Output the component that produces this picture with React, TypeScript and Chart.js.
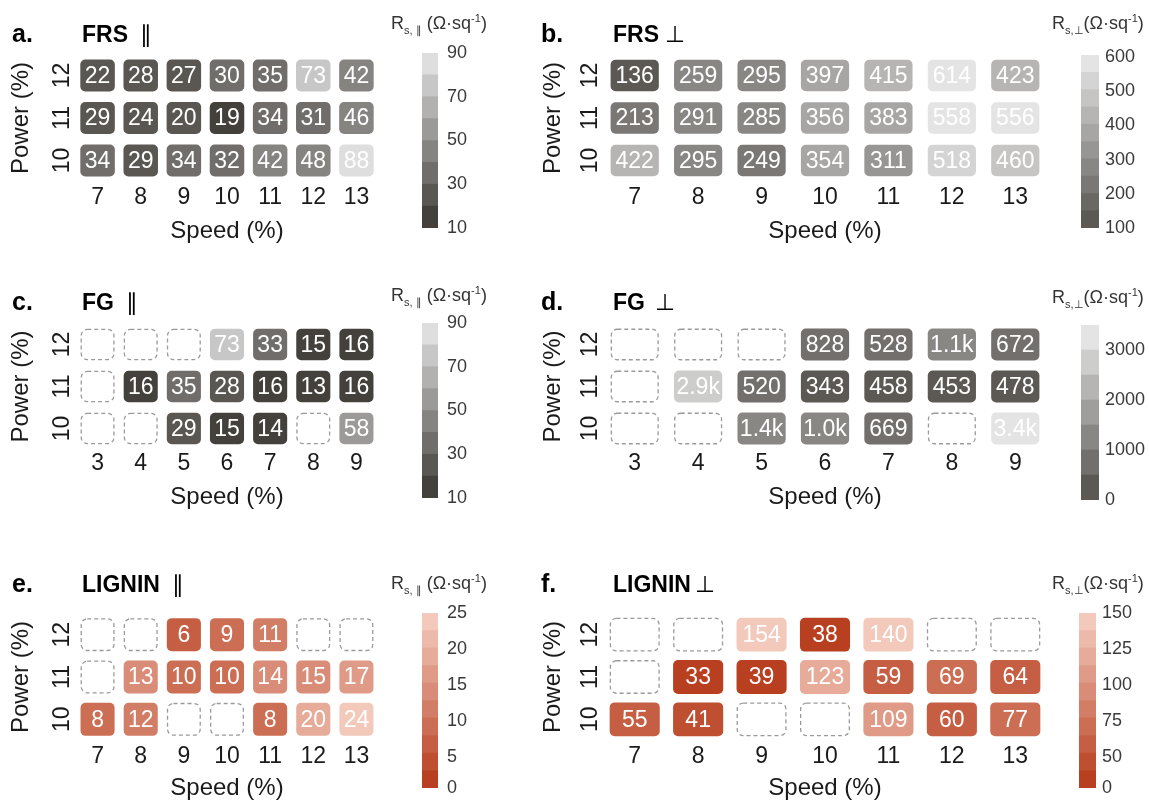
import React, { useEffect, useRef } from 'react';
import { Chart, registerables } from 'chart.js';
Chart.register(...registerables);

const FONT = '"Liberation Sans", Arial, Helvetica, sans-serif';
const CELLF = '"Liberation Sans", Arial, sans-serif';
const SYMF = '"DejaVu Sans", "Liberation Sans", sans-serif';

// ---------- data ----------
const powers = [12, 11, 10];
const speedsFRS = [7, 8, 9, 10, 11, 12, 13];
const speedsFG = [3, 4, 5, 6, 7, 8, 9];
const speedsLignin = [7, 8, 9, 10, 11, 12, 13];

const frsPar = [
  [22, 28, 27, 30, 35, 73, 42],
  [29, 24, 20, 19, 34, 31, 46],
  [34, 29, 34, 32, 42, 48, 88],
];
const frsPerp = [
  [136, 259, 295, 397, 415, 614, 423],
  [213, 291, 285, 356, 383, 558, 556],
  [422, 295, 249, 354, 311, 518, 460],
];
const fgPar = [
  [null, null, null, 73, 33, 15, 16],
  [null, 16, 35, 28, 16, 13, 16],
  [null, null, 29, 15, 14, null, 58],
];
const fgPerp = [
  [null, null, null, 828, 528, 1100, 672],
  [null, 2900, 520, 343, 458, 453, 478],
  [null, null, 1400, 1000, 669, null, 3400],
];
const ligPar = [
  [null, null, 6, 9, 11, null, null],
  [null, 13, 10, 10, 14, 15, 17],
  [8, 12, null, null, 8, 20, 24],
];
const ligPerp = [
  [null, null, 154, 38, 140, null, null],
  [null, 33, 39, 123, 59, 69, 64],
  [55, 41, null, null, 109, 60, 77],
];

// colour-bar ranges and tick labels
const cbRangePar = [10, 90];
const cbRangeFrsPerp = [100, 606];
const cbRangeFgPerp = [0, 3500];
const cbRangeLigPar = [0.7, 25];
const cbRangeLigPerp = [28.5, 150];
const cbTicksPar = [10, 30, 50, 70, 90];
const cbTicksFrsPerp = [100, 200, 300, 400, 500, 600];
const cbTicksFgPerp = [0, 1000, 2000, 3000];
const cbTicksLigPar = [0, 5, 10, 15, 20, 25];
const cbTicksLigPerp = [0, 50, 75, 100, 125, 150];

// ---------- styles ----------
const GRAY_L = { dark: [68, 64, 60], light: [222, 222, 222] };
const GRAY_R = { dark: [92, 88, 84], light: [228, 228, 228] };
const RED = { dark: [184, 64, 32], light: [243, 201, 188] };

const ROWS = [
  { canvasTop: 20, canvasH: 235, areaTop: 54.25, areaBottom: 181.75, titleC: 231, tickC: 198 },
  { canvasTop: 290, canvasH: 235, areaTop: 323.5, areaBottom: 449.5, titleC: 497, tickC: 464 },
  { canvasTop: 580, canvasH: 240, areaTop: 613.5, areaBottom: 740.5, titleC: 788, tickC: 757 },
];
const COLS: any = {
  L: { canvasLeft: 0, canvasW: 395, areaLeft: 76, areaRight: 378, powerC: 21, tickPad: 1, letterX: 12, nameX: 82, cbTitleX: 391, cbCanvasLeft: 392, cbCanvasW: 110, cbTickPad: 9 },
  R: { canvasLeft: 530, canvasW: 530, areaLeft: 603, areaRight: 1047, powerC: 553, tickPad: 0, letterX: 541, nameX: 613, cbTitleX: 1052, cbCanvasLeft: 1050, cbCanvasW: 99, cbTickPad: 6 },
};

type Panel = {
  letter: string; name: string; sym: string; gap: string;
  speeds: number[]; values: (number | null)[][];
  range: number[]; bands: number; ticks: number[];
  pal: { dark: number[]; light: number[] };
  col: 'L' | 'R'; row: number; wf: number; hh: number;
  bar: { x: number; w: number; top: number; bottom: number };
  cbTitleY: number; titleY: number; sub: string; subGap: string;
};

const PANELS: Panel[] = [
  { letter: 'a.', name: 'FRS', sym: '\u2225', gap: '12px', speeds: speedsFRS, values: frsPar, range: cbRangePar, bands: 8, ticks: cbTicksPar, pal: GRAY_L, col: 'L', row: 0, wf: 0.8, hh: 0.375, bar: { x: 422, w: 16, top: 53, bottom: 228 }, cbTitleY: 13, titleY: 35, sub: 's, \u2225', subGap: ' ' },
  { letter: 'b.', name: 'FRS', sym: '\u22A5', gap: '6px', speeds: speedsFRS, values: frsPerp, range: cbRangeFrsPerp, bands: 10, ticks: cbTicksFrsPerp, pal: GRAY_R, col: 'R', row: 0, wf: 0.76, hh: 0.37, bar: { x: 1081, w: 18, top: 55, bottom: 228 }, cbTitleY: 13, titleY: 35, sub: 's,\u22A5', subGap: '' },
  { letter: 'c.', name: 'FG', sym: '\u2225', gap: '12px', speeds: speedsFG, values: fgPar, range: cbRangePar, bands: 8, ticks: cbTicksPar, pal: GRAY_L, col: 'L', row: 1, wf: 0.79, hh: 0.375, bar: { x: 422, w: 16, top: 323, bottom: 498 }, cbTitleY: 285, titleY: 303, sub: 's, \u2225', subGap: ' ' },
  { letter: 'd.', name: 'FG', sym: '\u22A5', gap: '10px', speeds: speedsFG, values: fgPerp, range: cbRangeFgPerp, bands: 7, ticks: cbTicksFgPerp, pal: GRAY_R, col: 'R', row: 1, wf: 0.76, hh: 0.38, bar: { x: 1081, w: 18, top: 325, bottom: 500 }, cbTitleY: 287, titleY: 303, sub: 's,\u22A5', subGap: '' },
  { letter: 'e.', name: 'LIGNIN', sym: '\u2225', gap: '12px', speeds: speedsLignin, values: ligPar, range: cbRangeLigPar, bands: 10, ticks: cbTicksLigPar, pal: RED, col: 'L', row: 2, wf: 0.79, hh: 0.39, bar: { x: 422, w: 16, top: 613, bottom: 788 }, cbTitleY: 573, titleY: 585, sub: 's, \u2225', subGap: ' ' },
  { letter: 'f.', name: 'LIGNIN', sym: '\u22A5', gap: '4px', speeds: speedsLignin, values: ligPerp, range: cbRangeLigPerp, bands: 10, ticks: cbTicksLigPerp, pal: RED, col: 'R', row: 2, wf: 0.79, hh: 0.4, bar: { x: 1079, w: 17, top: 613, bottom: 788 }, cbTitleY: 573, titleY: 585, sub: 's,\u22A5', subGap: '' },
];

function bandColor(p: Panel, i: number) {
  const t = p.bands > 1 ? i / (p.bands - 1) : 0;
  const c = p.pal.dark.map((d, k) => Math.round(d + (p.pal.light[k] - d) * t));
  return `rgb(${c[0]},${c[1]},${c[2]})`;
}
function colorFor(p: Panel, v: number) {
  const [mn, mx] = p.range;
  let i = Math.floor(((v - mn) / (mx - mn)) * p.bands);
  i = Math.max(0, Math.min(p.bands - 1, i));
  return bandColor(p, i);
}
function fmt(v: number) {
  return v >= 1000 ? (v / 1000).toFixed(1) + 'k' : String(v);
}

function cellPlugin(p: Panel) {
  return {
    id: 'cellLabels',
    afterDatasetsDraw(chart: any) {
      const { ctx } = chart;
      const xs = chart.scales.x;
      const ys = chart.scales.y;
      const w = (xs.getPixelForTick(1) - xs.getPixelForTick(0)) * p.wf;
      ctx.save();
      powers.forEach((pw, r) => {
        p.values[r].forEach((v, i) => {
          const cx = xs.getPixelForTick(i);
          const top = ys.getPixelForValue(pw + p.hh);
          const bot = ys.getPixelForValue(pw - p.hh);
          if (v == null) {
            ctx.setLineDash([4, 3]);
            ctx.strokeStyle = '#9a9a9a';
            ctx.lineWidth = 1.3;
            ctx.beginPath();
            ctx.roundRect(cx - w / 2 + 0.7, top + 0.7, w - 1.4, bot - top - 1.4, 6);
            ctx.stroke();
          } else {
            ctx.setLineDash([]);
            ctx.fillStyle = '#ffffff';
            ctx.font = `23px ${CELLF}`;
            ctx.textAlign = 'center';
            ctx.textBaseline = 'middle';
            ctx.fillText(fmt(v), cx, (top + bot) / 2 + 1);
          }
        });
      });
      ctx.restore();
    },
  };
}

function heatConfig(p: Panel): any {
  const R = ROWS[p.row];
  const C = COLS[p.col];
  const lhT = 24 * 1.2;
  const lhK = 23 * 1.2;
  return {
    type: 'bar',
    data: {
      labels: p.speeds.map(String),
      datasets: powers.map((pw, r) => ({
        label: String(pw),
        data: p.values[r].map((v) => (v == null ? null : [pw - p.hh, pw + p.hh])),
        backgroundColor: p.values[r].map((v) => (v == null ? 'rgba(0,0,0,0)' : colorFor(p, v))),
        borderWidth: 0,
        borderRadius: 5,
        borderSkipped: false,
        grouped: false,
        barPercentage: p.wf,
        categoryPercentage: 1,
      })),
    },
    options: {
      responsive: false,
      animation: false,
      devicePixelRatio: 1,
      events: [],
      layout: {
        padding: {
          left: 0,
          right: C.canvasW - (C.areaRight - C.canvasLeft),
          top: R.areaTop - R.canvasTop,
          bottom: 0,
        },
      },
      plugins: { legend: { display: false }, tooltip: { enabled: false } },
      scales: {
        x: {
          type: 'category',
          offset: true,
          grid: { display: false, drawTicks: false },
          border: { display: false },
          ticks: { font: { family: FONT, size: 23 }, color: '#1a1a1a', padding: R.tickC - R.areaBottom - lhK / 2, maxRotation: 0, autoSkip: false },
          title: { display: true, text: 'Speed (%)', font: { family: FONT, size: 24 }, color: '#1a1a1a', padding: { top: 0, bottom: R.canvasTop + R.canvasH - R.titleC - lhT / 2 } },
          afterFit: (s: any) => { s.height = R.canvasTop + R.canvasH - R.areaBottom; },
        },
        y: {
          type: 'linear',
          min: 9.5,
          max: 12.5,
          beginAtZero: false,
          grid: { display: false, drawTicks: false },
          border: { display: false },
          afterBuildTicks: (s: any) => { s.ticks = powers.map((v) => ({ value: v })); },
          ticks: { font: { family: FONT, size: 23 }, color: '#1a1a1a', padding: C.tickPad, minRotation: 90, maxRotation: 90, crossAlign: 'center' },
          title: { display: true, text: 'Power (%)', font: { family: FONT, size: 24 }, color: '#1a1a1a', padding: { top: C.powerC - C.canvasLeft - lhT / 2, bottom: 0 } },
          afterFit: (s: any) => { s.width = C.areaLeft - C.canvasLeft; },
        },
      },
    },
    plugins: [cellPlugin(p)],
  };
}

function cbConfig(p: Panel): any {
  const C = COLS[p.col];
  const [mn, mx] = p.range;
  const step = (mx - mn) / p.bands;
  const datasets = Array.from({ length: p.bands }, (_, i) => ({
    data: [[mn + i * step, mn + (i + 1) * step]],
    backgroundColor: bandColor(p, i),
    borderWidth: 0,
    grouped: false,
    barPercentage: 1,
    categoryPercentage: 1,
  }));
  return {
    type: 'bar',
    data: { labels: [''], datasets },
    options: {
      responsive: false,
      animation: false,
      devicePixelRatio: 1,
      events: [],
      layout: { padding: { left: p.bar.x - C.cbCanvasLeft, right: 0, top: 30, bottom: 30 } },
      plugins: { legend: { display: false }, tooltip: { enabled: false } },
      scales: {
        x: { type: 'category', display: false, offset: true },
        y: {
          type: 'linear',
          position: 'right',
          min: mn,
          max: mx,
          beginAtZero: false,
          grid: { display: false, drawTicks: false },
          border: { display: false },
          afterBuildTicks: (s: any) => { s.ticks = p.ticks.map((v) => ({ value: Math.max(v, mn) })); },
          ticks: { font: { family: FONT, size: 18 }, color: '#3a3a3a', padding: C.cbTickPad, callback: (_v: any, i: number) => String(p.ticks[i]) },
          afterFit: (s: any) => { s.width = C.cbCanvasW - (p.bar.x + p.bar.w - C.cbCanvasLeft); },
        },
      },
    },
  };
}

function PanelView({ p }: { p: Panel }) {
  const heatRef = useRef<HTMLCanvasElement>(null);
  const cbRef = useRef<HTMLCanvasElement>(null);
  const R = ROWS[p.row];
  const C = COLS[p.col];
  useEffect(() => {
    const h = new Chart(heatRef.current as HTMLCanvasElement, heatConfig(p));
    const c = new Chart(cbRef.current as HTMLCanvasElement, cbConfig(p));
    return () => { h.destroy(); c.destroy(); };
  }, []);
  const cbTop = p.bar.top - 30;
  const cbH = p.bar.bottom - p.bar.top + 60;
  return (
    <>
      <canvas ref={heatRef} width={C.canvasW} height={R.canvasH}
        style={{ position: 'absolute', left: C.canvasLeft, top: R.canvasTop, width: C.canvasW, height: R.canvasH }} />
      <canvas ref={cbRef} width={C.cbCanvasW} height={cbH}
        style={{ position: 'absolute', left: C.cbCanvasLeft, top: cbTop, width: C.cbCanvasW, height: cbH }} />
      <div style={{ position: 'absolute', left: C.letterX, top: p.titleY - 14, font: `bold 25px ${FONT}`, lineHeight: '25px', color: '#000', whiteSpace: 'nowrap' }}>{p.letter}</div>
      <div style={{ position: 'absolute', left: C.nameX, top: p.titleY - 13, font: `bold 23px ${FONT}`, lineHeight: '24px', color: '#000', whiteSpace: 'nowrap' }}>
        {p.name}
        <span style={{ fontWeight: 'normal', fontFamily: SYMF, fontSize: 23, marginLeft: p.gap }}>{p.sym}</span>
      </div>
      <div style={{ position: 'absolute', left: C.cbTitleX, top: p.cbTitleY, font: `18px ${FONT}`, lineHeight: '20px', color: '#333', whiteSpace: 'nowrap' }}>
        R<span style={{ fontSize: 11, position: 'relative', top: 5 }}>{p.sub}</span>{p.subGap}(Ω·sq<span style={{ fontSize: 11, position: 'relative', top: -7 }}>-1</span>)
      </div>
    </>
  );
}

export default function App() {
  return (
    <div style={{ position: 'absolute', left: 0, top: 0, width: 1149, height: 800, overflow: 'hidden', background: '#fff' }}>
      {PANELS.map((p) => <PanelView key={p.letter} p={p} />)}
    </div>
  );
}
